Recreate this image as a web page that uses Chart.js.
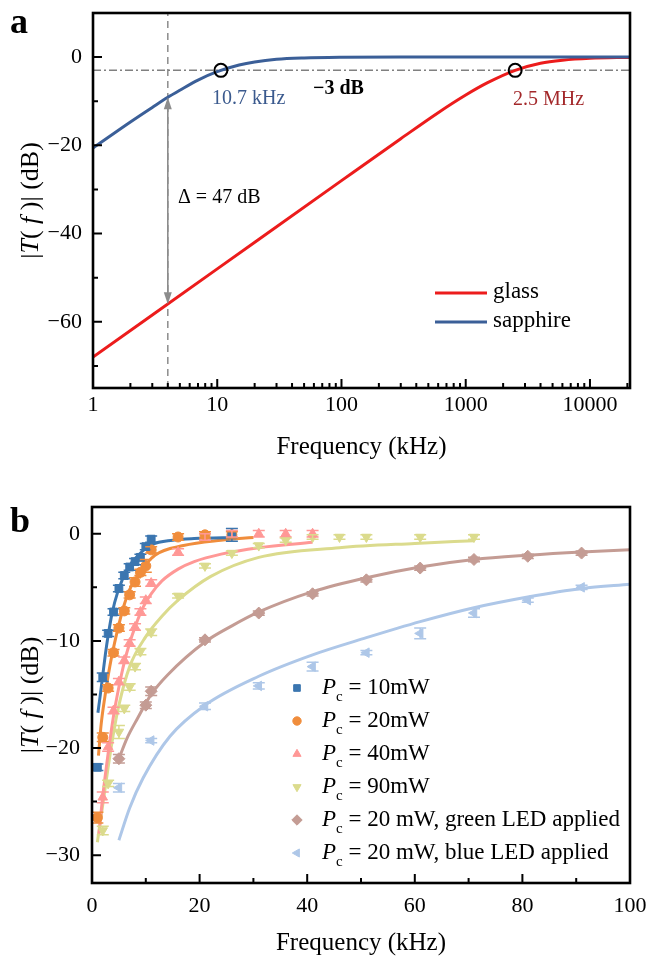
<!DOCTYPE html>
<html>
<head>
<meta charset="utf-8">
<script src="https://cdn.jsdelivr.net/npm/chart.js@4.4.1/dist/chart.umd.min.js"></script>
<style>
  body { margin: 0; background: #fff; }
  #wrap { position: relative; width: 651px; height: 958px; }
  canvas { position: absolute; left: 0; }
</style>
</head>
<body>
<div id="wrap">
  <canvas id="chartA" width="651" height="470" style="top:0"></canvas>
  <canvas id="chartB" width="651" height="488" style="top:470px"></canvas>
</div>
<script>
// ---- panel a: |T(f)| vs frequency (kHz), log axis ----
const sapphireFreq = [1, 2, 3, 4, 5, 7, 10, 15, 20, 30, 50, 100, 300, 1000, 10000, 21000];
const sapphireDb   = [-20.6, -14.7, -11.4, -9.1, -7.5, -5.2, -3.3, -1.8, -1.1, -0.5, -0.2, -0.05, 0, 0, 0, 0];
const glassFreq = [1, 10, 100, 300, 600, 1000, 1500, 2500, 4000, 6000, 10000, 21000];
const glassDb   = [-68, -48, -28, -18.5, -12.6, -8.6, -5.8, -3.0, -1.4, -0.7, -0.26, -0.06];
const cornerFreq = [10.7, 2500];
const cornerDb   = [-3, -3];
const probeFreq = 4;
const deltaTop = -9.1, deltaBottom = -56;
const aXLabels = [1, 10, 100, 1000, 10000];
const aYTicks  = [-70, -60, -50, -40, -30, -20, -10, 0];
const aYLabels = [-60, -40, -20, 0];

// ---- panel b: measured points (kHz, dB), error bars, fits ----
const p10x = [1, 2, 3, 4, 5, 6, 7, 8, 9, 10, 11, 26];
const p10y = [-21.8, -13.4, -9.3, -7.3, -5.1, -3.9, -3.1, -2.6, -2.2, -1.2, -0.5, -0.1];
const p10e = [0.3, 0.4, 0.3, 0.3, 0.3, 0.3, 0.3, 0.3, 0.3, 0.3, 0.3, 0.6];
const p20x = [1, 2, 3, 4, 5, 6, 7, 8, 9, 10, 11, 16, 21, 26];
const p20y = [-26.5, -19.0, -14.4, -11.1, -8.8, -7.2, -5.7, -4.5, -3.6, -3.0, -1.5, -0.3, -0.1, -0.1];
const p20e = [0.5, 0.4, 0.3, 0.3, 0.3, 0.3, 0.3, 0.4, 0.3, 0.6, 0.3, 0.3, 0.3, 0.3];
const p40x = [2, 3, 4, 5, 6, 7, 8, 9, 10, 11, 16, 21, 26, 31, 36, 41];
const p40y = [-24.6, -19.9, -16.5, -13.8, -11.8, -10.2, -8.7, -7.3, -6.2, -4.6, -1.7, -0.3, 0, 0, 0, 0];
const p40e = [0.5, 0.4, 0.3, 0.3, 0.3, 0.3, 0.3, 0.3, 0.3, 0.3, 0.3, 0.3, 0.3, 0.3, 0.3, 0.3];
const p90x = [2, 3, 5, 6, 7, 8, 9, 11, 16, 21, 26, 31, 36, 41, 46, 51, 61, 71];
const p90y = [-27.7, -23.3, -18.5, -16.3, -14.3, -12.4, -11.0, -9.2, -5.8, -3.0, -1.8, -1.1, -0.6, -0.3, -0.3, -0.3, -0.3, -0.3];
const p90e = [0.4, 0.3, 0.6, 0.3, 0.3, 0.3, 0.3, 0.3, 0.2, 0.2, 0.2, 0.2, 0.2, 0.2, 0.2, 0.2, 0.2, 0.2];
const pGreenx = [5, 10, 11, 21, 31, 41, 51, 61, 71, 81, 91];
const pGreeny = [-21.0, -16.0, -14.7, -9.9, -7.4, -5.6, -4.3, -3.2, -2.4, -2.1, -1.8];
const pGreene = [0.4, 0.3, 0.4, 0.2, 0.2, 0.2, 0.2, 0.2, 0.2, 0.2, 0.2];
const pBluex = [5, 11, 21, 31, 41, 51, 61, 71, 81, 91];
const pBluey = [-23.7, -19.3, -16.1, -14.2, -12.4, -11.1, -9.3, -7.4, -6.2, -5.0];
const pBluee = [0.4, 0.2, 0.3, 0.3, 0.4, 0.2, 0.5, 0.4, 0.2, 0.2];

const f10x = [1.1, 1.5, 2, 2.5, 3, 3.7, 4.8, 6.7, 8.6, 11.2, 15, 19, 27];
const f10y = [-16.7, -15.2, -13.2, -11.2, -9.5, -7.5, -5.4, -3.2, -2.0, -1.0, -0.6, -0.45, -0.35];
const f20x = [1.2, 1.7, 2.4, 3.3, 4.6, 6, 7, 8.6, 11.7, 17, 24, 30];
const f20y = [-20.7, -17.8, -15.2, -12.4, -9.3, -6.6, -5.2, -3.8, -2.0, -1.1, -0.6, -0.35];
const f40x = [1.3, 2, 3, 4, 5, 6, 7, 8, 9, 10, 11, 13, 16, 19, 24, 31, 41];
const f40y = [-28, -24.5, -20.5, -17.0, -14.3, -12.0, -10.2, -8.7, -7.4, -6.4, -5.6, -4.4, -3.3, -2.6, -1.9, -1.3, -0.8];
const f90x = [1, 2, 3, 4, 5, 7, 10, 13, 16, 22, 31, 46, 60, 71];
const f90y = [-28.8, -25.3, -21.8, -18.6, -16.0, -12.4, -9.6, -7.7, -6.2, -4.0, -2.2, -1.3, -0.9, -0.65];
const fGreenx = [5, 6.5, 8.5, 11, 14, 21, 26, 31, 41, 51, 61, 71, 81, 91, 100];
const fGreeny = [-21, -19.1, -17.2, -15, -13.2, -10.1, -8.6, -7.3, -5.4, -4.1, -3.1, -2.4, -2.0, -1.7, -1.5];
const fBluex = [5, 7, 9.5, 14.5, 21, 31, 41, 51, 61, 71, 81, 91, 100];
const fBluey = [-28.6, -25.6, -22.8, -18.9, -16.0, -13.3, -11.3, -9.7, -8.2, -6.9, -5.9, -5.1, -4.7];

const bXTicks  = [0, 10, 20, 30, 40, 50, 60, 70, 80, 90, 100];
const bXLabels = [0, 20, 40, 60, 80, 100];
const bYTicks  = [-30, -25, -20, -15, -10, -5, 0];
const bYLabels = [-30, -20, -10, 0];
const bLegend = ['10mW', '20mW', '40mW', '90mW', '20 mW, green LED applied', '20 mW, blue LED applied'];

const SERIF = "'Liberation Serif', 'Times New Roman', serif";
Chart.defaults.font.family = SERIF;
Chart.defaults.color = '#000';

const pts = (xs, ys) => xs.map((x, i) => ({ x: x, y: ys[i] }));
const fmt = v => (v < 0 ? '\u2212' + Math.abs(v) : String(v));
const setTicks = vals => scale => { scale.ticks = vals.map(v => ({ value: v })); };

// black frame + inward tick marks
const frameTicks = {
  id: 'frameTicks',
  afterDraw(chart) {
    const { ctx, chartArea: a } = chart;
    const xs = chart.scales.x, ys = chart.scales.y;
    ctx.save();
    ctx.strokeStyle = '#000';
    ctx.lineWidth = 2;
    ctx.beginPath();
    xs.ticks.forEach(t => {
      const px = xs.getPixelForValue(t.value);
      if (px < a.left + 1 || px > a.right - 1) return;
      const len = t.label ? 9 : 5;
      ctx.moveTo(px, a.bottom); ctx.lineTo(px, a.bottom - len);
    });
    ys.ticks.forEach(t => {
      const py = ys.getPixelForValue(t.value);
      if (py < a.top + 1 || py > a.bottom - 1) return;
      const len = t.label ? 9 : 5;
      ctx.moveTo(a.left, py); ctx.lineTo(a.left + len, py);
    });
    ctx.stroke();
    ctx.lineWidth = 2.6;
    ctx.strokeRect(a.left, a.top, a.right - a.left, a.bottom - a.top);
    ctx.restore();
  }
};

function drawYTitle(chart, cx) {
  const { ctx, chartArea: a } = chart;
  const parts = [['|', ''], ['T', 'italic '], ['(', ''], [' f', 'italic '], [' )| (dB)', '']];
  ctx.save();
  ctx.translate(cx, (a.top + a.bottom) / 2);
  ctx.rotate(-Math.PI / 2);
  ctx.fillStyle = '#000';
  ctx.textBaseline = 'middle';
  ctx.textAlign = 'left';
  let total = 0;
  parts.forEach(p => { ctx.font = p[1] + '26px ' + SERIF; total += ctx.measureText(p[0]).width; });
  let x = -total / 2;
  parts.forEach(p => {
    ctx.font = p[1] + '26px ' + SERIF;
    ctx.fillText(p[0], x, 0);
    x += ctx.measureText(p[0]).width;
  });
  ctx.restore();
}

const RED = '#ec1c1c', BLUE = '#3b5f98';

const panelA = {
  id: 'panelA',
  afterDraw(chart) {
    const ctx = chart.ctx, xs = chart.scales.x, ys = chart.scales.y;
    ctx.save();
    // delta arrow
    const ax = xs.getPixelForValue(probeFreq);
    const y1 = ys.getPixelForValue(deltaTop), y2 = ys.getPixelForValue(deltaBottom);
    ctx.strokeStyle = '#8c8c8c'; ctx.fillStyle = '#8c8c8c'; ctx.lineWidth = 1.6;
    ctx.beginPath(); ctx.moveTo(ax, y1 + 8); ctx.lineTo(ax, y2 - 8); ctx.stroke();
    ctx.beginPath(); ctx.moveTo(ax, y1); ctx.lineTo(ax - 4, y1 + 12); ctx.lineTo(ax + 4, y1 + 12); ctx.closePath(); ctx.fill();
    ctx.beginPath(); ctx.moveTo(ax, y2); ctx.lineTo(ax - 4, y2 - 12); ctx.lineTo(ax + 4, y2 - 12); ctx.closePath(); ctx.fill();

    ctx.textBaseline = 'middle'; ctx.textAlign = 'left';
    ctx.font = '20px ' + SERIF;
    ctx.fillStyle = '#3b5a8e'; ctx.fillText('10.7 kHz', 212, 99);
    ctx.fillStyle = '#a3282a'; ctx.fillText('2.5 MHz', 513, 100);
    ctx.fillStyle = '#000'; ctx.fillText('\u0394 = 47 dB', 178, 198);
    ctx.font = 'bold 20px ' + SERIF; ctx.fillText('\u22123 dB', 313, 89);

    // legend
    ctx.lineWidth = 3;
    [['glass', RED, 293], ['sapphire', BLUE, 322]].forEach(r => {
      ctx.strokeStyle = r[1];
      ctx.beginPath(); ctx.moveTo(435, r[2]); ctx.lineTo(487, r[2]); ctx.stroke();
      ctx.fillStyle = '#000'; ctx.font = '23px ' + SERIF;
      ctx.fillText(r[0], 493, r[2] - 1);
    });
    ctx.font = 'bold 36px ' + SERIF; ctx.textBaseline = 'alphabetic';
    ctx.fillText('a', 10, 33);
    ctx.restore();
    drawYTitle(chart, 31);
  }
};

new Chart(document.getElementById('chartA'), {
  type: 'scatter',
  data: {
    datasets: [
      { data: pts(cornerFreq, cornerDb), pointStyle: 'circle', pointRadius: 6.5, borderColor: '#000', backgroundColor: 'rgba(0,0,0,0)', borderWidth: 2 },
      { data: pts(sapphireFreq, sapphireDb), showLine: true, borderColor: BLUE, borderWidth: 3, pointRadius: 0, cubicInterpolationMode: 'monotone' },
      { data: pts(glassFreq, glassDb), showLine: true, borderColor: RED, borderWidth: 3, pointRadius: 0, cubicInterpolationMode: 'monotone' },
      { data: [{ x: 1, y: -3 }, { x: 21000, y: -3 }], showLine: true, borderColor: '#808080', borderWidth: 1.5, borderDash: [8, 3, 2, 3], pointRadius: 0 },
      { data: [{ x: probeFreq, y: -75 }, { x: probeFreq, y: 10 }], showLine: true, borderColor: '#8c8c8c', borderWidth: 1.5, borderDash: [7, 5], pointRadius: 0 }
    ]
  },
  options: {
    responsive: false,
    animation: false,
    layout: { padding: { left: 0, top: 13, right: 21, bottom: 0 } },
    plugins: { legend: { display: false }, tooltip: { enabled: false } },
    scales: {
      x: {
        type: 'logarithmic', min: 1, max: 21000,
        afterBuildTicks: scale => {
          const t = [];
          for (let e = 0; e <= 4; e++) for (let m = 1; m <= 9; m++) { const v = m * Math.pow(10, e); if (v <= 21000) t.push({ value: v }); }
          scale.ticks = t;
        },
        afterFit: s => { s.height = 82; s.paddingLeft = 0; s.paddingRight = 0; },
        grid: { display: false, drawTicks: false }, border: { display: false },
        ticks: { autoSkip: false, maxRotation: 0, padding: 4, font: { size: 22 }, callback: v => (aXLabels.includes(v) ? String(v) : '') },
        title: { display: true, text: 'Frequency (kHz)', font: { size: 25 }, padding: { top: 0, bottom: 8 } }
      },
      y: {
        min: -75, max: 10,
        afterBuildTicks: setTicks(aYTicks),
        afterFit: s => { s.width = 93; s.paddingTop = 0; s.paddingBottom = 0; },
        grid: { display: false, drawTicks: false }, border: { display: false },
        ticks: { autoSkip: false, padding: 11, font: { size: 22 }, callback: v => (aYLabels.includes(v) ? fmt(v) : '') }
      }
    }
  },
  plugins: [frameTicks, panelA]
});

// ---- panel b ----
const series = [
  { x: p10x, y: p10y, e: p10e, fx: f10x, fy: f10y, color: '#3b76b0', style: 'rect', rot: 0, r: 5.5 },
  { x: p20x, y: p20y, e: p20e, fx: f20x, fy: f20y, color: '#f08d3c', style: 'circle', rot: 0, r: 5 },
  { x: p40x, y: p40y, e: p40e, fx: f40x, fy: f40y, color: '#ff9896', style: 'triangle', rot: 0, r: 5.5 },
  { x: p90x, y: p90y, e: p90e, fx: f90x, fy: f90y, color: '#dbdb8d', style: 'triangle', rot: 180, r: 5.5 },
  { x: pGreenx, y: pGreeny, e: pGreene, fx: fGreenx, fy: fGreeny, color: '#c49c94', style: 'rectRot', rot: 0, r: 6 },
  { x: pBluex, y: pBluey, e: pBluee, fx: fBluex, fy: fBluey, color: '#aec7e8', style: 'triangle', rot: -90, r: 5.5 }
];

const pointSets = series.map(s => ({
  data: pts(s.x, s.y), err: s.e,
  pointStyle: s.style, pointRotation: s.rot, pointRadius: s.r,
  backgroundColor: s.color, borderColor: s.color, borderWidth: 1
}));
const fitSets = series.map(s => ({
  data: pts(s.fx, s.fy), showLine: true, pointRadius: 0,
  borderColor: s.color, borderWidth: 3, cubicInterpolationMode: 'monotone'
}));

const errorBars = {
  id: 'errorBars',
  afterDatasetsDraw(chart) {
    const ctx = chart.ctx, ys = chart.scales.y;
    chart.data.datasets.forEach((ds, i) => {
      if (!ds.err) return;
      const meta = chart.getDatasetMeta(i);
      ctx.save();
      ctx.strokeStyle = ds.borderColor;
      ctx.lineWidth = 1.5;
      ctx.beginPath();
      meta.data.forEach((pt, j) => {
        const ya = ys.getPixelForValue(ds.data[j].y - ds.err[j]);
        const yb = ys.getPixelForValue(ds.data[j].y + ds.err[j]);
        ctx.moveTo(pt.x, ya); ctx.lineTo(pt.x, yb);
        ctx.moveTo(pt.x - 6, ya); ctx.lineTo(pt.x + 6, ya);
        ctx.moveTo(pt.x - 6, yb); ctx.lineTo(pt.x + 6, yb);
      });
      ctx.stroke();
      ctx.restore();
    });
  }
};

const panelB = {
  id: 'panelB',
  afterDraw(chart) {
    const ctx = chart.ctx;
    ctx.save();
    series.forEach((s, i) => {
      const y = 218 + i * 33;
      ctx.fillStyle = s.color; ctx.strokeStyle = s.color; ctx.lineWidth = 1;
      Chart.helpers.drawPoint(ctx, { pointStyle: s.style, radius: s.r - 0.8, rotation: s.rot, borderWidth: 1 }, 297, y);
      ctx.fillStyle = '#000'; ctx.textBaseline = 'middle'; ctx.textAlign = 'left';
      let x = 322;
      ctx.font = 'italic 23px ' + SERIF; ctx.fillText('P', x, y); x += ctx.measureText('P').width;
      ctx.font = '15px ' + SERIF; ctx.fillText('c', x, y + 9); x += ctx.measureText('c').width;
      ctx.font = '23px ' + SERIF; ctx.fillText(' = ' + bLegend[i], x, y);
    });
    ctx.font = 'bold 36px ' + SERIF; ctx.textBaseline = 'alphabetic'; ctx.fillStyle = '#000';
    ctx.fillText('b', 10, 62);
    ctx.restore();
    drawYTitle(chart, 31);
  }
};

new Chart(document.getElementById('chartB'), {
  type: 'scatter',
  data: { datasets: pointSets.concat(fitSets) },
  options: {
    responsive: false,
    animation: false,
    layout: { padding: { left: 0, top: 37, right: 21, bottom: 0 } },
    plugins: { legend: { display: false }, tooltip: { enabled: false } },
    scales: {
      x: {
        min: 0, max: 100,
        afterBuildTicks: setTicks(bXTicks),
        afterFit: s => { s.height = 75; s.paddingLeft = 0; s.paddingRight = 0; },
        grid: { display: false, drawTicks: false }, border: { display: false },
        ticks: { autoSkip: false, maxRotation: 0, padding: 10, font: { size: 22 }, callback: v => (bXLabels.includes(v) ? String(v) : '') },
        title: { display: true, text: 'Frequency (kHz)', font: { size: 25 }, padding: { top: 0, bottom: 0 } }
      },
      y: {
        min: -32.6, max: 2.5,
        afterBuildTicks: setTicks(bYTicks),
        afterFit: s => { s.width = 92; s.paddingTop = 0; s.paddingBottom = 0; },
        grid: { display: false, drawTicks: false }, border: { display: false },
        ticks: { autoSkip: false, padding: 12, font: { size: 22 }, callback: v => (bYLabels.includes(v) ? fmt(v) : '') }
      }
    }
  },
  plugins: [errorBars, frameTicks, panelB]
});
</script>
</body>
</html>
